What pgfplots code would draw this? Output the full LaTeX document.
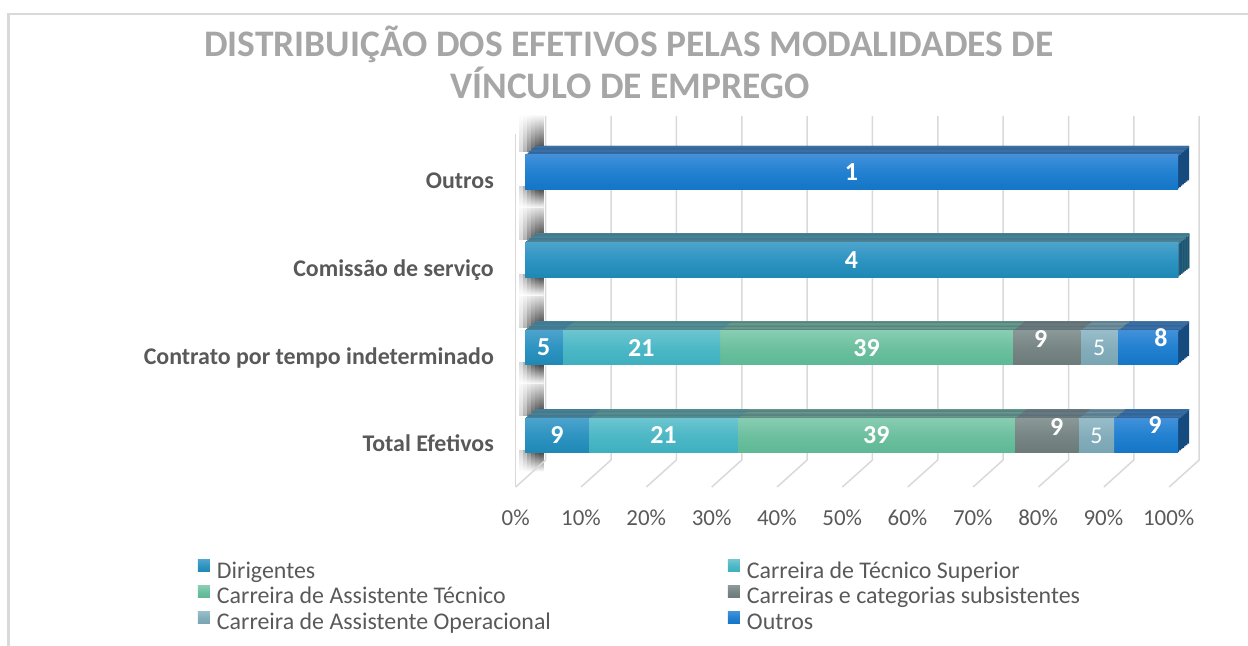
\documentclass[border=0pt]{standalone}
\usepackage{pgfplots}
\pgfplotsset{compat=1.18}
\usepackage{pgfplotstable}
\usepackage{fontspec}
\setmainfont{Carlito}

\definecolor{cTxt}{HTML}{595959}
\definecolor{cTitle}{HTML}{A6A6A6}
\definecolor{cGrid}{HTML}{D9D9D9}
\definecolor{dirT}{HTML}{4CA3CC}\definecolor{dirM}{HTML}{2E94C1}\definecolor{dirB}{HTML}{1F88B5}\definecolor{dirF}{HTML}{3F7B9B}\definecolor{dirS}{HTML}{1A5479}
\definecolor{tecT}{HTML}{6CC5D0}\definecolor{tecM}{HTML}{4DB8C6}\definecolor{tecB}{HTML}{3EAFBF}\definecolor{tecF}{HTML}{4E8D95}\definecolor{tecS}{HTML}{2D757E}
\definecolor{astT}{HTML}{88CDB3}\definecolor{astM}{HTML}{6DC09F}\definecolor{astB}{HTML}{5DB895}\definecolor{astF}{HTML}{629A88}\definecolor{astS}{HTML}{3E7A66}
\definecolor{subT}{HTML}{8A9898}\definecolor{subM}{HTML}{778585}\definecolor{subB}{HTML}{6D7A7A}\definecolor{subF}{HTML}{6C7676}\definecolor{subS}{HTML}{4D5858}
\definecolor{opeT}{HTML}{97BDC9}\definecolor{opeM}{HTML}{84ADBB}\definecolor{opeB}{HTML}{79A5B3}\definecolor{opeF}{HTML}{728F99}\definecolor{opeS}{HTML}{56747F}
\definecolor{outT}{HTML}{4290D9}\definecolor{outM}{HTML}{2281D0}\definecolor{outB}{HTML}{1575C6}\definecolor{outF}{HTML}{3B6FA3}\definecolor{outS}{HTML}{164B80}

% counts per category (0 = Total Efetivos, 1 = Contrato, 2 = Comissao, 3 = Outros)
\pgfplotstableread{
cat tot dir tec ast sub ope out
0 92 9 21 39 9 5 9
1 87 5 21 39 9 5 8
2 4 4 0 0 0 0 0
3 1 0 0 0 0 0 1
}\datatab

% data labels: cb = count before segment, d = count, sx/sy = label offset
\pgfplotstableread{
cat cb d tot sx sy
0 0 9 92 0 0
0 9 21 92 0 0
0 30 39 92 0 0
0 69 9 92 10 8
0 83 9 92 9 10
1 0 5 87 0 0
1 5 21 87 0 0
1 26 39 87 0 0
1 65 9 87 -6 9
1 79 8 87 13 10
2 0 4 4 0 0
3 0 1 1 0 0
}\labbold
\pgfplotstableread{
cat cb d tot sx sy
0 78 5 92 0 0
1 74 5 87 0 0
}\labreg

\tikzset{
  barX/.style={xbar, bar width=34.5bp, bar shift=0pt, draw=none},
  topX/.style={xbar, bar width=2bp, bar shift=16.25bp, draw=none},
  outFront/.style={top color=outT, bottom color=outB, middle color=outM},
  opeFront/.style={top color=opeT, bottom color=opeB, middle color=opeM},
  subFront/.style={top color=subT, bottom color=subB, middle color=subM},
  astFront/.style={top color=astT, bottom color=astB, middle color=astM},
  tecFront/.style={top color=tecT, bottom color=tecB, middle color=tecM},
  dirFront/.style={top color=dirT, bottom color=dirB, middle color=dirM},
}
\pgfplotsset{
  geom/.style={scale only axis, width=653bp, height=351.3bp,
    xmin=0, xmax=100, ymin=-0.5, ymax=3.5, clip=false,
    x filter/.expression={x<0.001 ? nan : x}, unbounded coords=discard},
  sqleg/.style n args={3}{legend image code/.code={\path[draw=none,fill=none] (0bp,0bp) -- (17bp,0bp);\path[draw=none, top color=#1, bottom color=#3, middle color=#2] (0bp,1bp) rectangle (12bp,13bp);}},
}
\def\Xout{(\thisrow{dir}+\thisrow{tec}+\thisrow{ast}+\thisrow{sub}+\thisrow{ope}+\thisrow{out})/\thisrow{tot}*100}
\def\Xope{(\thisrow{dir}+\thisrow{tec}+\thisrow{ast}+\thisrow{sub}+\thisrow{ope})/\thisrow{tot}*100}
\def\Xsub{(\thisrow{dir}+\thisrow{tec}+\thisrow{ast}+\thisrow{sub})/\thisrow{tot}*100}
\def\Xast{(\thisrow{dir}+\thisrow{tec}+\thisrow{ast})/\thisrow{tot}*100}
\def\Xtec{(\thisrow{dir}+\thisrow{tec})/\thisrow{tot}*100}
\def\Xdir{\thisrow{dir}/\thisrow{tot}*100}

% depth copy: dark block (side face) + light strip on top (top face)
\newcommand\barsBack{%
  \addplot[forget plot, barX, fill=outS] table[y=cat, x expr=\Xout] \datatab;
  \addplot[forget plot, barX, fill=opeS] table[y=cat, x expr=\Xope] \datatab;
  \addplot[forget plot, barX, fill=subS] table[y=cat, x expr=\Xsub] \datatab;
  \addplot[forget plot, barX, fill=astS] table[y=cat, x expr=\Xast] \datatab;
  \addplot[forget plot, barX, fill=tecS] table[y=cat, x expr=\Xtec] \datatab;
  \addplot[forget plot, barX, fill=dirS] table[y=cat, x expr=\Xdir] \datatab;
  \addplot[forget plot, topX, fill=outF] table[y=cat, x expr=\Xout] \datatab;
  \addplot[forget plot, topX, fill=opeF] table[y=cat, x expr=\Xope] \datatab;
  \addplot[forget plot, topX, fill=subF] table[y=cat, x expr=\Xsub] \datatab;
  \addplot[forget plot, topX, fill=astF] table[y=cat, x expr=\Xast] \datatab;
  \addplot[forget plot, topX, fill=tecF] table[y=cat, x expr=\Xtec] \datatab;
  \addplot[forget plot, topX, fill=dirF] table[y=cat, x expr=\Xdir] \datatab;
}
% front faces, one plot per category so that each bar gets its own gradient
\newcommand\barsFront{%
  \pgfplotsinvokeforeach{0,1,2,3}{
    \addplot[forget plot, barX, outFront, y filter/.expression={abs(y-##1)<0.1 ? y : nan}] table[y=cat, x expr=\Xout] \datatab;
    \addplot[forget plot, barX, opeFront, y filter/.expression={abs(y-##1)<0.1 ? y : nan}] table[y=cat, x expr=\Xope] \datatab;
    \addplot[forget plot, barX, subFront, y filter/.expression={abs(y-##1)<0.1 ? y : nan}] table[y=cat, x expr=\Xsub] \datatab;
    \addplot[forget plot, barX, astFront, y filter/.expression={abs(y-##1)<0.1 ? y : nan}] table[y=cat, x expr=\Xast] \datatab;
    \addplot[forget plot, barX, tecFront, y filter/.expression={abs(y-##1)<0.1 ? y : nan}] table[y=cat, x expr=\Xtec] \datatab;
    \addplot[forget plot, barX, dirFront, y filter/.expression={abs(y-##1)<0.1 ? y : nan}] table[y=cat, x expr=\Xdir] \datatab;
  }
}

\begin{document}
\begin{tikzpicture}
\useasboundingbox (0,0) rectangle (1248bp,646bp);
\begin{scope}[x=1bp,y=-1bp,yshift=646bp]
  % frame
  \draw[cGrid, line width=2bp] (8.5,646) -- (8.5,14.5) -- (1248,14.5);
  % title
  \node[font=\bfseries\fontsize{37.6}{42}\selectfont, text=cTitle, anchor=base, inner sep=0pt] at (629,56.9) {DISTRIBUIÇÃO DOS EFETIVOS PELAS MODALIDADES DE};
  \node[font=\bfseries\fontsize{37.6}{42}\selectfont, text=cTitle, anchor=base, inner sep=0pt] at (630,98.9) {VÍNCULO DE EMPREGO};
  % shadows on the side wall, above and below each bar
  \foreach \c in {172,259.7,348,435.5}{
    \foreach \xa/\dk in {519/15,523/30,527/48,531/62,535/72,539/78}{
      \shade[top color=white, bottom color=black!\dk] (\xa,\c-58) rectangle (\xa+4.3,\c-20);
    }
  }
  \foreach \c in {172,259.7,348,435.5}{
    \foreach \xa/\dk in {519/15,523/30,527/48,531/62,535/72,539/78}{
      \shade[top color=black!\dk, bottom color=white] (\xa,\c+15) rectangle (\xa+4.3,\c+36);
    }
  }
  % grid lines (back wall + floor diagonals)
  \foreach \k in {0,...,10}{
    \pgfmathsetmacro\gx{545.7+65.35*\k}
    \draw[cGrid, line width=1.5bp] (\gx,116) -- (\gx,460) -- (\gx-30,487);
  }
  \draw[cGrid, line width=1.5bp] (515.7,134) -- (515.7,487);
\end{scope}

% depth (top and side faces)
\foreach \s in {1,0.85,0.7,0.55,0.4,0.25,0.1}{
  \begin{axis}[geom, hide axis, at={(525bp+11bp*\s,166.6bp+9bp*\s)}, anchor=south west]
    \barsBack
  \end{axis}
}

% front faces, labels, legend
\begin{axis}[geom, at={(525bp,166.6bp)}, anchor=south west,
  axis line style={draw=none}, tick style={draw=none}, major tick length=0pt,
  xtick={0,10,...,100},
  xticklabels={0\%,10\%,20\%,30\%,40\%,50\%,60\%,70\%,80\%,90\%,100\%},
  xticklabel style={font=\fontsize{23}{27}\selectfont, text=cTxt, anchor=base, inner sep=0pt, xshift=-9.3bp, yshift=-45.9bp},
  ytick={0,1,2,3},
  yticklabels={Total Efetivos,Contrato por tempo indeterminado,Comissão de serviço,Outros},
  yticklabel style={font=\bfseries\fontsize{24}{28}\selectfont, text=cTxt, anchor=base east, inner sep=0pt, xshift=-31bp, yshift=-16.4bp},
  /pgf/number format/assume math mode=true,
  legend columns=2, legend cell align=left,
  legend style={at={(axis description cs:-0.5008,-0.2294)}, anchor=north west, draw=none, fill=none,
    inner sep=0pt, outer sep=0pt, row sep=0pt,
    font=\fontsize{24}{28}\selectfont,
    nodes={inner xsep=2bp, inner ysep=0pt, text height=18bp, text depth=7.7bp, text=cTxt},
    /tikz/every even column/.append style={column sep=175bp}},
]
  \barsFront
  \addplot[forget plot, only marks, mark=none, point meta=explicit,
    visualization depends on={\thisrow{sx}\as\sx},
    visualization depends on={\thisrow{sy}\as\sy},
    nodes near coords,
    nodes near coords style={anchor=center, xshift=\sx*1bp, yshift=\sy*1bp, text=white, inner sep=0pt, font=\bfseries\fontsize{26}{30}\selectfont}]
    table[y=cat, x expr={(\thisrow{cb}+\thisrow{d}/2)/\thisrow{tot}*100}, meta=d] \labbold;
  \addplot[forget plot, only marks, mark=none, point meta=explicit,
    nodes near coords,
    nodes near coords style={anchor=center, text=white, inner sep=0pt, font=\fontsize{24}{28}\selectfont}]
    table[y=cat, x expr={(\thisrow{cb}+\thisrow{d}/2)/\thisrow{tot}*100}, meta=d] \labreg;
  \addlegendimage{sqleg={dirT}{dirM}{dirB}}\addlegendentry{Dirigentes}
  \addlegendimage{sqleg={tecT}{tecM}{tecB}}\addlegendentry{Carreira de Técnico Superior}
  \addlegendimage{sqleg={astT}{astM}{astB}}\addlegendentry{Carreira de Assistente Técnico}
  \addlegendimage{sqleg={subT}{subM}{subB}}\addlegendentry{Carreiras e categorias subsistentes}
  \addlegendimage{sqleg={opeT}{opeM}{opeB}}\addlegendentry{Carreira de Assistente Operacional}
  \addlegendimage{sqleg={outT}{outM}{outB}}\addlegendentry{Outros}
\end{axis}
\end{tikzpicture}
\end{document}
